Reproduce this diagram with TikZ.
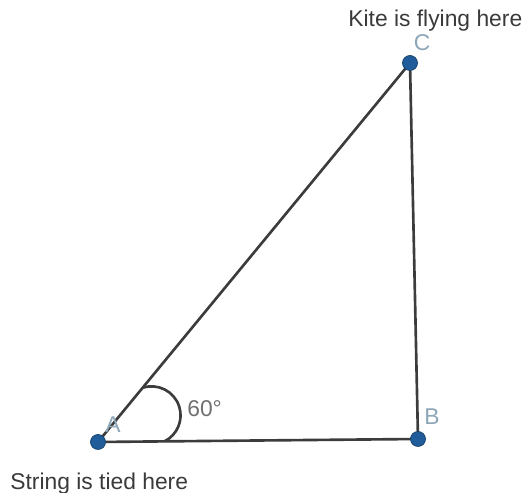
\documentclass[tikz,border=0pt]{standalone}
\usepackage{fontspec}
\setmainfont{Liberation Sans}
\usetikzlibrary{positioning, calc}

\definecolor{dotblue}{HTML}{1F5C99}
\definecolor{edgegray}{HTML}{3C3C3C}
\definecolor{vlabel}{HTML}{8DA6B8}
\definecolor{txtgray}{HTML}{3A3A3A}
\definecolor{anglegray}{HTML}{707070}

\begin{document}
\begin{tikzpicture}[
    x=0.02cm, y=0.02cm,
    side/.style={draw=edgegray, line width=1.5pt},
    dot/.style={circle, fill=dotblue, draw=dotblue!70!black, line width=0.4pt,
                inner sep=0pt, minimum size=0.3cm},
    note/.style={text=txtgray, font=\fontsize{13}{15}\selectfont, inner sep=0pt},
    vname/.style={text=vlabel, font=\fontsize{13}{15}\selectfont, inner sep=0pt}
]
\useasboundingbox (0,0) rectangle (525,493);

% --- Vertices ---
\coordinate (A) at (98,51);
\coordinate (B) at (418,54);
\coordinate (C) at (410,430);

% --- Triangle ---
\draw[side] (A) -- (B) -- (C) -- cycle;

% angle mark at A
\draw[side] ($(A)!0.143!(C)$) arc[start angle=108, end angle=-63, radius=29];

% --- Dots ---
\node[dot] (dotA) at (A) {};
\node[dot] (dotB) at (B) {};
\node[dot] (dotC) at (C) {};

% --- Labels ---
\node[vname, anchor=base] (labA) at ($(A)+(15,9)$) {A};
\node[vname, anchor=base] (labB) at ($(B)+(14,14)$) {B};
\node[vname, anchor=base] (labC) at ($(C)+(12,12)$) {C};
\node[note, anchor=base west, text=anglegray] (angA) at ($(A)+(89,25)$) {60°};

\node[note, anchor=base west] (kite) at ($(C)+(-62,36)$) {Kite is flying here};
\node[note, anchor=base west] (string) at ($(A)+(-88,-48)$) {String is tied here};

\end{tikzpicture}
\end{document}
